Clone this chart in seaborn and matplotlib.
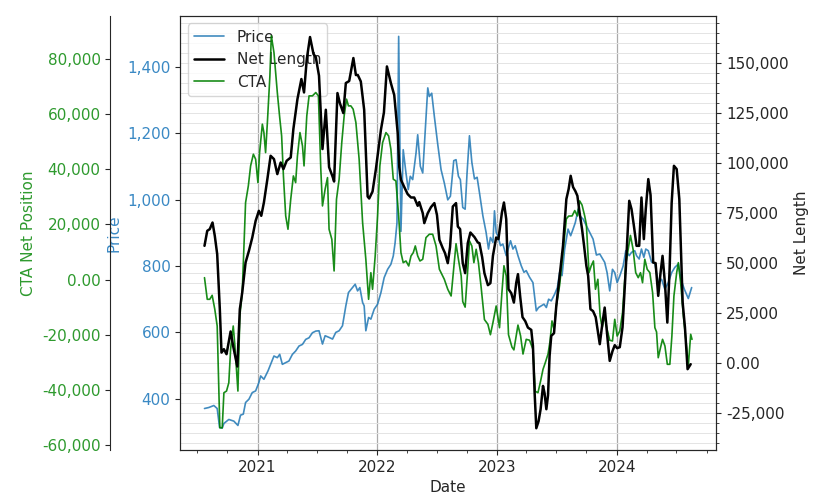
import numpy as np
import pandas as pd
import seaborn as sns
import matplotlib.pyplot as plt
import matplotlib.dates as mdates
from matplotlib.ticker import FuncFormatter, MultipleLocator, AutoMinorLocator

price_t = [2020.559, 2020.595, 2020.637, 2020.665, 2020.685, 2020.707, 2020.721, 2020.762, 2020.804, 2020.838,
           2020.860, 2020.883, 2020.902, 2020.930, 2020.958, 2020.986, 2021.013, 2021.028, 2021.055, 2021.089,
           2021.117, 2021.139, 2021.167, 2021.187, 2021.209, 2021.237, 2021.264, 2021.293, 2021.320, 2021.348,
           2021.377, 2021.404, 2021.432, 2021.460, 2021.488, 2021.515, 2021.544, 2021.566, 2021.599, 2021.628,
           2021.655, 2021.683, 2021.711, 2021.739, 2021.761, 2021.795, 2021.817, 2021.837, 2021.856, 2021.879,
           2021.892, 2021.906, 2021.929, 2021.948, 2021.976, 2022.004, 2022.032, 2022.059, 2022.088, 2022.115,
           2022.135, 2022.150, 2022.166, 2022.180, 2022.199, 2022.218, 2022.241, 2022.260, 2022.277, 2022.297,
           2022.325, 2022.339, 2022.361, 2022.381, 2022.423, 2022.436, 2022.456, 2022.478, 2022.506, 2022.534,
           2022.561, 2022.590, 2022.612, 2022.640, 2022.659, 2022.679, 2022.695, 2022.715, 2022.735, 2022.751,
           2022.771, 2022.791, 2022.813, 2022.835, 2022.854, 2022.883, 2022.910, 2022.930, 2022.946, 2022.967,
           2022.980, 2022.994, 2023.008, 2023.030, 2023.050, 2023.078, 2023.114, 2023.134, 2023.153, 2023.176,
           2023.203, 2023.226, 2023.245, 2023.273, 2023.301, 2023.329, 2023.348, 2023.371, 2023.393, 2023.413,
           2023.432, 2023.454, 2023.482, 2023.505, 2023.524, 2023.544, 2023.566, 2023.594, 2023.616, 2023.636,
           2023.655, 2023.678, 2023.691, 2023.720, 2023.747, 2023.775, 2023.803, 2023.831, 2023.859, 2023.900,
           2023.920, 2023.942, 2023.965, 2023.984, 2024.004, 2024.026, 2024.054, 2024.076, 2024.105, 2024.124,
           2024.151, 2024.166, 2024.188, 2024.207, 2024.227, 2024.243, 2024.264, 2024.291, 2024.319, 2024.347,
           2024.375, 2024.402, 2024.431, 2024.459, 2024.486, 2024.515, 2024.536, 2024.565, 2024.598, 2024.626]
price = [371, 374, 380, 371, 314, 312, 326, 338, 333, 320,
         351, 354, 389, 399, 419, 424, 449, 469, 459, 484,
         509, 529, 524, 534, 504, 509, 514, 534, 544, 559,
         564, 579, 584, 599, 604, 605, 565, 590, 585, 580,
         600, 605, 620, 680, 720, 735, 745, 725, 735, 690,
         680, 605, 645, 640, 670, 685, 720, 765, 790, 805,
         830, 869, 930, 1491, 904, 1150, 1080, 1030, 1070, 1060,
         1140, 1195, 1100, 1080, 1336, 1310, 1320, 1250, 1167, 1090,
         1050, 999, 1010, 1117, 1120, 1070, 1060, 976, 971, 1080,
         1192, 1112, 1062, 1067, 1022, 951, 901, 851, 886, 871,
         966, 901, 891, 861, 866, 831, 876, 851, 861, 831,
         801, 781, 786, 766, 750, 665, 675, 680, 685, 675,
         700, 695, 715, 735, 781, 771, 851, 911, 891, 911,
         931, 971, 951, 941, 921, 901, 881, 833, 836, 811,
         780, 725, 790, 780, 750, 770, 800, 846, 831, 841,
         846, 831, 821, 851, 826, 851, 846, 812, 807, 750,
         760, 730, 750, 780, 796, 806, 760, 730, 702, 735]

net_t = [2020.559, 2020.582, 2020.603, 2020.626, 2020.645, 2020.665, 2020.687, 2020.701, 2020.721, 2020.743,
         2020.777, 2020.799, 2020.833, 2020.854, 2020.874, 2020.902, 2020.930, 2020.958, 2020.986, 2021.013,
         2021.033, 2021.055, 2021.084, 2021.111, 2021.139, 2021.167, 2021.195, 2021.218, 2021.245, 2021.279,
         2021.301, 2021.335, 2021.368, 2021.390, 2021.413, 2021.440, 2021.469, 2021.488, 2021.515, 2021.544,
         2021.572, 2021.599, 2021.628, 2021.641, 2021.669, 2021.689, 2021.718, 2021.739, 2021.767, 2021.802,
         2021.823, 2021.839, 2021.864, 2021.892, 2021.921, 2021.934, 2021.962, 2021.990, 2022.032, 2022.057,
         2022.082, 2022.115, 2022.143, 2022.172, 2022.185, 2022.199, 2022.227, 2022.255, 2022.283, 2022.310,
         2022.339, 2022.352, 2022.381, 2022.394, 2022.423, 2022.450, 2022.478, 2022.500, 2022.520, 2022.548,
         2022.567, 2022.590, 2022.609, 2022.632, 2022.659, 2022.674, 2022.693, 2022.715, 2022.735, 2022.757,
         2022.779, 2022.813, 2022.841, 2022.854, 2022.877, 2022.896, 2022.925, 2022.946, 2022.967, 2022.994,
         2023.013, 2023.042, 2023.059, 2023.078, 2023.097, 2023.120, 2023.142, 2023.162, 2023.176, 2023.195,
         2023.214, 2023.237, 2023.259, 2023.287, 2023.301, 2023.315, 2023.329, 2023.348, 2023.365, 2023.385,
         2023.398, 2023.413, 2023.427, 2023.440, 2023.454, 2023.477, 2023.496, 2023.524, 2023.552, 2023.580,
         2023.599, 2023.616, 2023.636, 2023.655, 2023.672, 2023.691, 2023.711, 2023.728, 2023.747, 2023.762,
         2023.781, 2023.803, 2023.825, 2023.859, 2023.881, 2023.900, 2023.921, 2023.942, 2023.965, 2023.984,
         2024.004, 2024.026, 2024.049, 2024.076, 2024.105, 2024.124, 2024.143, 2024.166, 2024.188, 2024.207,
         2024.227, 2024.243, 2024.264, 2024.283, 2024.305, 2024.325, 2024.347, 2024.366, 2024.383, 2024.403,
         2024.423, 2024.442, 2024.459, 2024.478, 2024.501, 2024.523, 2024.551, 2024.570, 2024.592, 2024.618]
net_length = [58650, 66150, 67000, 70300, 63650, 54500, 27000, 5300, 7000, 4500,
              15850, 8350, -1650, 27000, 35300, 50300, 56150, 62800, 71150, 76150,
              73650, 80300, 92000, 103650, 102000, 94500, 100300, 97000, 101150, 102800,
              117000, 132000, 142000, 135300, 152000, 163000, 154500, 153000, 143650, 107000,
              126650, 98000, 93300, 90800, 135000, 130000, 125000, 140000, 141000, 152500,
              144000, 144000, 140800, 126650, 83300, 82300, 85800, 97000, 116650, 125300,
              148300, 140000, 134000, 115000, 98000, 91650, 88000, 84500, 82800, 82800,
              78650, 80500, 75000, 70000, 75000, 78000, 80000, 74000, 61650, 57500,
              55000, 50000, 58000, 78300, 80000, 68300, 67000, 50000, 45000, 60000,
              65300, 63000, 60300, 60000, 53000, 45000, 39000, 40000, 53650, 62800,
              62000, 75300, 80300, 72000, 37000, 35000, 30300, 40300, 44500, 33000,
              23000, 21000, 17800, 16650, 8650, -14700, -32500, -29000, -23000, -11350,
              -15000, -23000, -16000, 3650, 13650, 15000, 28650, 43650, 58650, 82000,
              87000, 93650, 88000, 86000, 83650, 75000, 67000, 58650, 48650, 43650,
              27000, 26000, 23000, 9500, 20000, 27800, 14000, 1150, 6000, 9000,
              7500, 8000, 18000, 47000, 81150, 77000, 69000, 58650, 58650, 82800,
              62000, 77000, 92000, 84000, 50300, 50000, 33650, 45000, 53650, 40000,
              20300, 47000, 80000, 98650, 97000, 82000, 30300, 18000, -3000, -500]

cta_t = [2020.559, 2020.582, 2020.603, 2020.623, 2020.645, 2020.665, 2020.687, 2020.707, 2020.721, 2020.743,
         2020.762, 2020.777, 2020.799, 2020.813, 2020.838, 2020.854, 2020.874, 2020.902, 2020.925, 2020.944,
         2020.967, 2020.986, 2021.005, 2021.019, 2021.042, 2021.055, 2021.069, 2021.084, 2021.105, 2021.117,
         2021.139, 2021.167, 2021.187, 2021.203, 2021.218, 2021.237, 2021.256, 2021.279, 2021.301, 2021.320,
         2021.335, 2021.356, 2021.377, 2021.390, 2021.413, 2021.432, 2021.460, 2021.488, 2021.510, 2021.530,
         2021.544, 2021.566, 2021.586, 2021.599, 2021.622, 2021.641, 2021.661, 2021.683, 2021.705, 2021.725,
         2021.745, 2021.761, 2021.781, 2021.800, 2021.823, 2021.850, 2021.879, 2021.906, 2021.929, 2021.948,
         2021.962, 2021.984, 2022.004, 2022.023, 2022.046, 2022.074, 2022.096, 2022.115, 2022.135, 2022.157,
         2022.180, 2022.199, 2022.218, 2022.241, 2022.264, 2022.283, 2022.302, 2022.319, 2022.339, 2022.358,
         2022.381, 2022.408, 2022.436, 2022.464, 2022.492, 2022.520, 2022.561, 2022.590, 2022.618, 2022.641,
         2022.659, 2022.679, 2022.702, 2022.715, 2022.735, 2022.757, 2022.771, 2022.791, 2022.808, 2022.827,
         2022.846, 2022.869, 2022.896, 2022.925, 2022.946, 2022.967, 2022.994, 2023.022, 2023.042, 2023.059,
         2023.078, 2023.097, 2023.126, 2023.142, 2023.176, 2023.198, 2023.218, 2023.245, 2023.273, 2023.301,
         2023.320, 2023.343, 2023.365, 2023.385, 2023.404, 2023.427, 2023.444, 2023.460, 2023.477, 2023.496,
         2023.524, 2023.552, 2023.580, 2023.599, 2023.628, 2023.650, 2023.672, 2023.691, 2023.711, 2023.733,
         2023.747, 2023.769, 2023.787, 2023.806, 2023.823, 2023.843, 2023.862, 2023.879, 2023.900, 2023.920,
         2023.942, 2023.965, 2023.984, 2024.004, 2024.026, 2024.049, 2024.076, 2024.096, 2024.115, 2024.137,
         2024.159, 2024.180, 2024.199, 2024.216, 2024.235, 2024.255, 2024.277, 2024.300, 2024.319, 2024.333,
         2024.347, 2024.366, 2024.383, 2024.403, 2024.423, 2024.444, 2024.461, 2024.478, 2024.501, 2024.515,
         2024.534, 2024.557, 2024.579, 2024.598, 2024.618, 2024.629]
cta = [680, -7160, -7160, -5710, -10780, -16840, -53730, -53730, -41030, -40420,
       -37400, -25290, -16840, -24090, -40420, -13210, -4760, 27880, 33940, 41190,
       45430, 43620, 35130, 46020, 56320, 53270, 46020, 56900, 73830, 88340,
       82290, 67780, 58710, 52070, 37560, 23060, 18230, 29110, 37560, 35130,
       44820, 53270, 48450, 41190, 59330, 66580, 66580, 67780, 66580, 40000,
       26680, 32740, 36950, 18230, 14600, 3110, 29110, 36370, 49640, 59330,
       65380, 62950, 62950, 61760, 56900, 43620, 20630, 7350, -7160, 2490,
       -3530, 8550, 23060, 41190, 49640, 53270, 52070, 47250, 36370, 35750,
       23060, 9750, 6120, 6730, 4920, 8550, 9750, 12180, 8550, 6730,
       7350, 15190, 16420, 16420, 12180, 3720, 100, -3530, -5960, 4920,
       13000, 7350, 1290, -8000, -10000, 3720, 14000, 12180, 6120, 10980,
       6120, -3000, -14500, -16230, -20000, -15640, -9590, -17460, -4760, 5000,
       1290, -20000, -24500, -25500, -16500, -20470, -27000, -21670, -22000, -25290,
       -40500, -41000, -36790, -32550, -30150, -27000, -22280, -15000, -18040, -9590,
       -2000, 10000, 22000, 23000, 23060, 25000, 23060, 28500, 27000, 23060,
       20000, 2490, 4920, 6730, -3530, 100, -13210, -17460, -13210, -18040,
       -22000, -22280, -14410, -20470, -18650, -12000, 5540, 10980, 16000, 10980,
       2490, 680, 2490, -1140, 7350, 3720, 2490, -4760, -17460, -19000,
       -28340, -24690, -21670, -24090, -30730, -30730, -20470, -5960, 2490, 6120,
       -1140, -13210, -22280, -31350, -19850, -21670]

price_col = '#1f77b4'
cta_col = 'green'
price_txt = '#3a89c4'
cta_txt = '#2e9a2e'


def to_dates(t):
    t = np.asarray(t, dtype=float)
    return pd.to_datetime('2020-01-01') + pd.to_timedelta((t - 2020.0) * 365.25, unit='D')


def fmt_num(x, pos):
    # zero is written as 0.00 on the original
    if abs(x) < 1e-9:
        return '0.00'
    return f'{x:,.0f}'


sns.set_style('ticks')
plt.rcParams['font.family'] = ['DejaVu Sans']
plt.rcParams['font.size'] = 11

fig, ax = plt.subplots(figsize=(8.15, 4.94), dpi=100)
fig.subplots_adjust(left=0.221, right=0.879, top=0.968, bottom=0.089)

# background axes only for the fine horizontal grid (follows the Net Length scale)
gax = fig.add_axes(ax.get_position(), zorder=-1, sharex=ax)
ax.patch.set_visible(False)

ax2 = ax.twinx()
ax3 = ax.twinx()

sns.lineplot(x=to_dates(price_t), y=price, ax=ax, color=price_col, alpha=0.85, lw=1.2, label='Price')
sns.lineplot(x=to_dates(cta_t), y=cta, ax=ax2, color=cta_col, alpha=0.9, lw=1.2, label='CTA')
sns.lineplot(x=to_dates(net_t), y=net_length, ax=ax3, color='black', lw=1.8, label='Net Length')

h1, l1 = ax.get_legend_handles_labels()
h2, l2 = ax2.get_legend_handles_labels()
h3, l3 = ax3.get_legend_handles_labels()
for a in (ax, ax2, ax3):
    if a.get_legend() is not None:
        a.get_legend().remove()
ax.legend(h1 + h3 + h2, l1 + l3 + l2, loc='upper left', fontsize=11, frameon=True,
          framealpha=0.8, edgecolor='0.8')

# CTA axis sits on an offset spine at the left
ax2.spines['left'].set_position(('axes', -0.13))
ax2.spines['left'].set_visible(True)
for s in ['right', 'top', 'bottom']:
    ax2.spines[s].set_visible(False)
ax2.yaxis.set_ticks_position('left')
ax2.yaxis.set_label_position('left')

ax.set_ylim(246, 1553)
ax2.set_ylim(-61800, 95600)
ax3.set_ylim(-43400, 173600)

ax.yaxis.set_major_locator(MultipleLocator(200))
ax2.yaxis.set_major_locator(MultipleLocator(20000))
ax3.yaxis.set_major_locator(MultipleLocator(25000))
ax3.yaxis.set_minor_locator(AutoMinorLocator(5))
ax.yaxis.set_major_formatter(FuncFormatter(fmt_num))
ax2.yaxis.set_major_formatter(FuncFormatter(fmt_num))
ax3.yaxis.set_major_formatter(FuncFormatter(fmt_num))

ax.xaxis.set_major_locator(mdates.YearLocator())
ax.xaxis.set_major_formatter(mdates.DateFormatter('%Y'))
ax.xaxis.set_minor_locator(mdates.MonthLocator(bymonth=[4, 7, 10]))

# grid axes mirrors the Net Length scale, drawn beneath every line
gax.set_ylim(ax3.get_ylim())
gax.yaxis.set_major_locator(MultipleLocator(25000))
gax.yaxis.set_minor_locator(AutoMinorLocator(5))
gax.yaxis.grid(True, which='both', color='#e4e4e4', lw=0.7)
gax.xaxis.grid(True, which='major', color='#aaaaaa', lw=0.9)
gax.tick_params(which='both', left=False, bottom=False, labelleft=False, labelbottom=False)
for s in gax.spines.values():
    s.set_visible(False)

ax.tick_params(axis='y', labelcolor=price_txt)
ax2.tick_params(axis='y', labelcolor=cta_txt)

ax.set_xlabel('Date')
ax.set_ylabel('Price', color=price_txt)
ax2.set_ylabel('CTA Net Position', color=cta_txt, labelpad=4)
ax3.set_ylabel('Net Length', labelpad=4)
ax2.set_xlabel('')
ax3.set_xlabel('')

plt.savefig('out.png', dpi=100)
